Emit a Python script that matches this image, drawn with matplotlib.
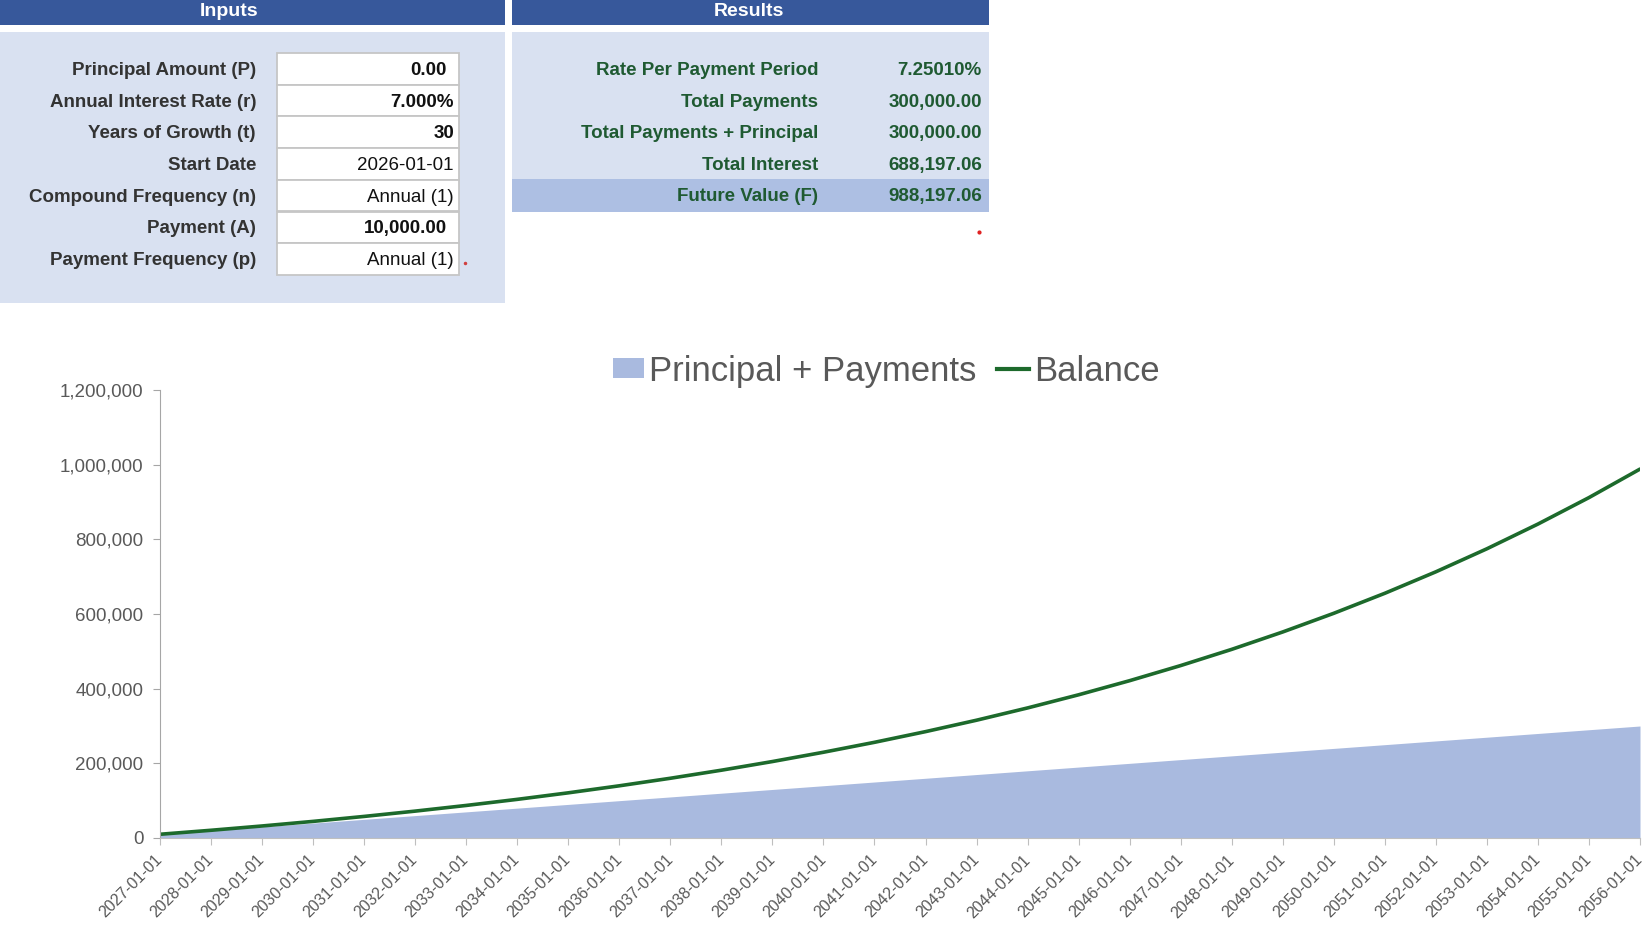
import matplotlib
matplotlib.use("Agg")
import matplotlib.pyplot as plt
from matplotlib.patches import Rectangle, Patch
from matplotlib.lines import Line2D
from matplotlib.ticker import FuncFormatter

plt.rcParams['font.family'] = ['Liberation Sans', 'DejaVu Sans']

# ---------------- data ----------------
dates = ["2027-01-01", "2028-01-01", "2029-01-01", "2030-01-01", "2031-01-01",
         "2032-01-01", "2033-01-01", "2034-01-01", "2035-01-01", "2036-01-01",
         "2037-01-01", "2038-01-01", "2039-01-01", "2040-01-01", "2041-01-01",
         "2042-01-01", "2043-01-01", "2044-01-01", "2045-01-01", "2046-01-01",
         "2047-01-01", "2048-01-01", "2049-01-01", "2050-01-01", "2051-01-01",
         "2052-01-01", "2053-01-01", "2054-01-01", "2055-01-01", "2056-01-01"]

principal_payments = [10000, 20000, 30000, 40000, 50000, 60000, 70000, 80000,
                      90000, 100000, 110000, 120000, 130000, 140000, 150000,
                      160000, 170000, 180000, 190000, 200000, 210000, 220000,
                      230000, 240000, 250000, 260000, 270000, 280000, 290000,
                      300000]

balance = [10000, 20700, 32200, 44500, 57800, 72000, 87200, 103500, 121000,
           139800, 160000, 181600, 204800, 229700, 256300, 284900, 315500,
           348400, 383600, 421400, 461900, 505300, 551900, 601900, 655500,
           713000, 774700, 840900, 911800, 988200]

input_labels = ["Principal Amount (P)", "Annual Interest Rate (r)", "Years of Growth (t)",
                "Start Date", "Compound Frequency (n)", "Payment (A)", "Payment Frequency (p)"]
input_values = ["0.00", "7.000%", "30", "2026-01-01", "Annual (1)", "10,000.00", "Annual (1)"]
input_bold = [True, True, True, False, False, True, False]

result_labels = ["Rate Per Payment Period", "Total Payments", "Total Payments + Principal",
                 "Total Interest", "Future Value (F)"]
result_values = ["7.25010%", "300,000.00", "300,000.00", "688,197.06", "988,197.06"]

# ---------------- colours ----------------
HEADER = "#37589b"
PANEL = "#d9e1f1"
HILITE = "#adbfe3"
AREA = "#a9badf"
LINE = "#1d6a2c"
GREEN_TXT = "#1f5a32"
LABEL_TXT = "#333333"
AXIS_TXT = "#595959"

W, H = 1650, 943
fig = plt.figure(figsize=(W / 100, H / 100), dpi=100)

# overlay in pixel coordinates for the spreadsheet panels
ov = fig.add_axes([0, 0, 1, 1])
ov.set_xlim(0, W)
ov.set_ylim(H, 0)
ov.axis('off')

# --- Inputs block ---
ov.add_patch(Rectangle((0, 0), 505, 25, color=HEADER, lw=0))
ov.text(229, 12, "Inputs", color="white", fontsize=14, fontweight='bold',
        ha='center', va='center')
ov.add_patch(Rectangle((0, 32), 505, 271, color=PANEL, lw=0))

row_h = 31.7
for i, (lab, val, bold) in enumerate(zip(input_labels, input_values, input_bold)):
    top = 53 + i * row_h
    yc = top + row_h / 2 + 1.5
    ov.add_patch(Rectangle((277, top), 182, row_h, facecolor="white",
                           edgecolor="#c6c6c6", lw=1.3))
    ov.text(256, yc, lab, color=LABEL_TXT, fontsize=13.5, fontweight='bold',
            ha='right', va='center')
    xr = 447 if val.endswith(".00") else 454
    ov.text(xr, yc, val, color="#111111", fontsize=13.5,
            fontweight='bold' if bold else 'normal', ha='right', va='center')
ov.plot([465], [263], marker='o', ms=1.5, color="#d04040", lw=0)

# --- Results block ---
ov.add_patch(Rectangle((512, 0), 477, 25, color=HEADER, lw=0))
ov.text(749, 12, "Results", color="white", fontsize=14, fontweight='bold',
        ha='center', va='center')
ov.add_patch(Rectangle((512, 32), 477, 147, color=PANEL, lw=0))
ov.add_patch(Rectangle((512, 179), 477, 33, color=HILITE, lw=0))
for i, (lab, val) in enumerate(zip(result_labels, result_values)):
    yc = 70.5 + i * 31.6
    ov.text(818, yc, lab, color=GREEN_TXT, fontsize=13.5, fontweight='bold',
            ha='right', va='center')
    ov.text(982, yc, val, color=GREEN_TXT, fontsize=13.5, fontweight='bold',
            ha='right', va='center')
ov.plot([979], [232], marker='o', ms=2, color="#e02020", lw=0)

# ---------------- chart ----------------
ax = fig.add_axes([160 / W, 1 - 838 / H, (1640 - 160) / W, (838 - 390) / H])
x = list(range(len(dates)))
ax.fill_between(x, principal_payments, color=AREA, lw=0)
ax.plot(x, balance, color=LINE, lw=2.6, solid_capstyle='round')

ax.set_xlim(0, len(dates) - 1)
ax.set_ylim(0, 1200000)
ax.set_yticks(range(0, 1200001, 200000))
ax.yaxis.set_major_formatter(FuncFormatter(lambda v, p: f"{v:,.0f}"))
ax.set_xticks(x)
ax.set_xticklabels(dates, rotation=45, ha='right', va='center',
                   rotation_mode='anchor', fontsize=11.5, color=AXIS_TXT)

for s in ("top", "right"):
    ax.spines[s].set_visible(False)
ax.spines["left"].set_color("#a6a6a6")
ax.spines["bottom"].set_color("#bfbfbf")
ax.tick_params(axis='y', length=5, color="#a6a6a6", labelsize=13.5,
               labelcolor=AXIS_TXT, pad=7)
ax.tick_params(axis='x', length=5, color="#bfbfbf", pad=9)
ax.set_facecolor("none")

handles = [Patch(facecolor=AREA, edgecolor='none'),
           Line2D([], [], color=LINE, lw=3)]
fig.legend(handles, ["Principal + Payments", "Balance"], loc='center',
           bbox_to_anchor=(886 / W, 1 - 371 / H), ncol=2, frameon=False,
           fontsize=25, handlelength=0.9, handleheight=0.5, handletextpad=0.15,
           columnspacing=0.6, labelcolor=AXIS_TXT)

fig.savefig("out.png", dpi=100)
